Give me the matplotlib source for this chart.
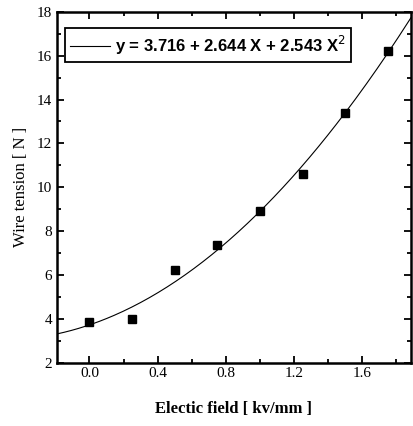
import numpy as np
from matplotlib import pyplot as plt
from matplotlib.ticker import MultipleLocator

# measured points
field = [0.0, 0.25, 0.5, 0.75, 1.0, 1.25, 1.5, 1.75]
tension = [3.85, 4.0, 6.2, 7.35, 8.9, 10.6, 13.4, 16.2]

# quadratic fit shown in the legend (c0, c1, c2)
fit_coef = [3.716, 2.644, 2.543]
fit_label = r'y = 3.716 + 2.644 X + 2.543 X$^2$'

xlim = (-0.19, 1.885)

fig = plt.figure(figsize=(4.13, 4.26), dpi=100)
ax = fig.add_axes([0.138, 0.149, 0.857, 0.823])

xs = np.linspace(xlim[0], xlim[1], 200)
ys = np.polyval(fit_coef[::-1], xs)
ax.plot(xs, ys, color='black', lw=0.8, label=fit_label)
ax.plot(field, tension, 's', color='black', ms=5.5, label='_nolegend_')

ax.set_xlim(*xlim)
ax.set_ylim(2, 18)
ax.xaxis.set_major_locator(MultipleLocator(0.4))
ax.xaxis.set_minor_locator(MultipleLocator(0.2))
ax.yaxis.set_major_locator(MultipleLocator(2))
ax.yaxis.set_minor_locator(MultipleLocator(1))
ax.tick_params(which='both', direction='in', top=True, right=True, width=1.3)
ax.tick_params(which='major', length=5)
ax.tick_params(which='minor', length=3)
for s in ax.spines.values():
    s.set_linewidth(1.8)

serif = 'Liberation Serif'
for lab in ax.get_xticklabels() + ax.get_yticklabels():
    lab.set_fontfamily(serif)
    lab.set_fontsize(11)
ax.set_xticklabels([f'{v:.1f}' for v in ax.get_xticks()])
ax.set_xlabel('Electic field [ kv/mm ]', fontfamily=serif, fontsize=12, fontweight='bold', labelpad=15)
ax.set_ylabel('Wire tension [ N ]', fontfamily=serif, fontsize=12, labelpad=6)

leg = ax.legend(loc='upper left', bbox_to_anchor=(0.022, 0.953), borderaxespad=0, fancybox=False,
                edgecolor='black', framealpha=1, handlelength=2.4, handletextpad=0.3,
                borderpad=0.3, prop={'family': 'Liberation Sans', 'weight': 'bold', 'size': 12})
leg.get_frame().set_linewidth(1.3)

fig.savefig('out.png', dpi=100)
